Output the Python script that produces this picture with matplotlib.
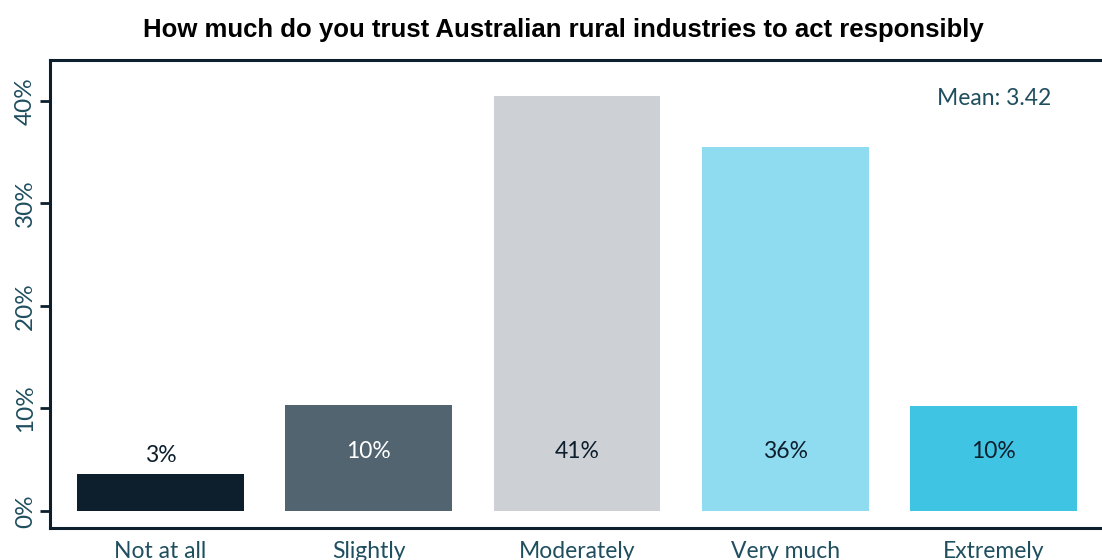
import matplotlib.pyplot as plt
from matplotlib.ticker import FuncFormatter

categories = ['Not at all', 'Slightly', 'Moderately', 'Very much', 'Extremely']
values = [3.6, 10.3, 40.5, 35.5, 10.2]
labels = ['3%', '10%', '41%', '36%', '10%']
colors = ['#0d1f2d', '#52646f', '#cdd1d6', '#8fdcf0', '#40c4e3']
label_colors = ['#0d1f2d', 'white', '#0d1f2d', '#0d1f2d', '#0d1f2d']
mean_value = 3.42

plt.rcParams['font.family'] = ['Lato', 'DejaVu Sans']
navy = '#0d1f2d'
teal = '#1f4e5f'

fig = plt.figure(figsize=(11.02, 5.6), dpi=100)
ax = fig.add_axes([50 / 1102, 32 / 560, 1.0 - 50 / 1102 + 0.002, (528 - 60) / 560])

x = range(len(categories))
ax.bar(x, values, width=0.8, color=colors)

for i, v in enumerate(values):
    y = v + 1.8 if v < 5 else 5.8
    ax.text(i, y, labels[i], ha='center', va='center', fontsize=16.5, color=label_colors[i])

ax.text(4, 40.2, f'Mean: {mean_value}', ha='center', va='center', fontsize=16.5, color=teal)

ax.set_xlim(-0.53, 4.53)
ax.set_ylim(-1.66, 44)
ax.set_xticks(list(x))
ax.set_xticklabels(categories, fontsize=16.5, color=teal)
ax.set_yticks([0, 10, 20, 30, 40])
ax.yaxis.set_major_formatter(FuncFormatter(lambda v, p: f'{v:.0f}%'))
for t in ax.get_yticklabels():
    t.set_rotation(90)
    t.set_va('center')
    t.set_fontsize(17.5)
    t.set_color(teal)
ax.tick_params(axis='x', length=0, pad=9)
ax.tick_params(axis='y', length=7, width=2, color=navy, pad=3)

for side in ['left', 'bottom', 'top']:
    ax.spines[side].set_color(navy)
    ax.spines[side].set_linewidth(2.2)
ax.spines['right'].set_visible(False)

fig.suptitle('How much do you trust Australian rural industries to act responsibly',
             x=0.511, y=1 - 30 / 560, va='center', fontsize=18.5, fontweight='bold',
             family='Liberation Sans', color='black')

fig.savefig('out.png', dpi=100)
